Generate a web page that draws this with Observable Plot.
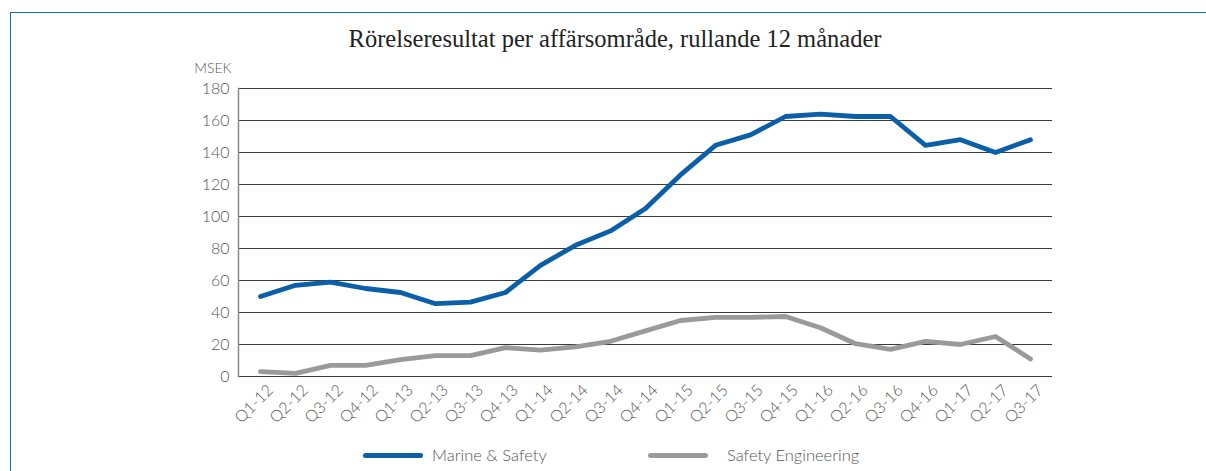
<!DOCTYPE html>
<html>
<head>
<meta charset="utf-8">
<script src="https://cdn.jsdelivr.net/npm/d3@7"></script>
<script src="https://cdn.jsdelivr.net/npm/@observablehq/plot@0.6"></script>
<style>
  html, body { margin: 0; padding: 0; background: #fff; overflow: hidden; }
  body { width: 1206px; height: 471px; position: relative; font-family: Lato, "Open Sans", sans-serif; }
  #border { position: absolute; left: 10px; top: 12px; width: 1400px; height: 600px; border: 1.5px solid #1b6ab5; box-sizing: border-box; }
  #title { position: absolute; left: 0; width: 1230px; top: 25px; text-align: center; font-family: "Liberation Serif", "DejaVu Serif", serif; font-size: 24.5px; color: #222; }
  #chart { position: absolute; left: 0; top: 60px; }
  .legend { position: absolute; top: 445px; font-size: 16.5px; font-weight: 300; color: #555; display: flex; align-items: center; }
  .sw { width: 60px; height: 5px; border-radius: 3px; margin-right: 9px; }
</style>
</head>
<body>
<div id="border"></div>
<div id="title">Rörelseresultat per affärsområde, rullande 12 månader</div>
<div id="chart"></div>
<div class="legend" style="left:363px"><div class="sw" style="background:#0b5ea8"></div>Marine &amp; Safety</div>
<div class="legend" style="left:648px"><div class="sw" style="background:#9a9a9c;margin-right:19px"></div>Safety Engineering</div>
<script>
const quarters = ["Q1-12","Q2-12","Q3-12","Q4-12","Q1-13","Q2-13","Q3-13","Q4-13","Q1-14","Q2-14","Q3-14","Q4-14","Q1-15","Q2-15","Q3-15","Q4-15","Q1-16","Q2-16","Q3-16","Q4-16","Q1-17","Q2-17","Q3-17"];
const marineSafety = [50, 57, 59, 55, 52.5, 45.5, 46.5, 52.5, 69.5, 82, 91, 105, 126, 144.5, 151, 162.5, 164, 162.5, 162.5, 144.5, 148, 140, 148];
const safetyEngineering = [3, 2, 7, 7, 10.5, 13, 13, 18, 16.5, 18.5, 22, 28.5, 35, 37, 37, 37.5, 30.5, 20.5, 17, 22, 20, 25, 11];
const seriesNames = ["Marine & Safety", "Safety Engineering"];
const seriesColors = ["#0b5ea8", "#9a9a9c"];
const yTicks = [0, 20, 40, 60, 80, 100, 120, 140, 160, 180];

const data = [
  ...quarters.map((q, i) => ({q, v: marineSafety[i], s: seriesNames[0]})),
  ...quarters.map((q, i) => ({q, v: safetyEngineering[i], s: seriesNames[1]}))
];

const chart = Plot.plot({
  width: 1206,
  height: 380,
  marginLeft: 238,
  marginRight: 154,
  marginTop: 28,
  marginBottom: 64,
  style: {fontFamily: "Lato, 'Open Sans', sans-serif", fontSize: "15px", fontWeight: 300, color: "#555", background: "transparent"},
  x: {type: "point", domain: quarters, padding: 0.5},
  y: {domain: [0, 180]},
  color: {domain: seriesNames, range: seriesColors},
  marks: [
    Plot.ruleY(yTicks, {stroke: "#3a3a3a", strokeWidth: 1.2}),
    Plot.frame({anchor: "left", stroke: "#8a8a8a", strokeWidth: 1.5}),
    Plot.line(data, {x: "q", y: "v", z: "s", stroke: "s", strokeWidth: 4.8}),
    Plot.axisY(yTicks, {tickSize: 0, tickPadding: 9, label: null, fontSize: 16, fill: "#555"}),
    Plot.axisX({tickRotate: -45, tickSize: 0, tickPadding: 6, label: null, fontSize: 16, fill: "#555", dx: 10, dy: 5}),
    Plot.text(["MSEK"], {frameAnchor: "top-left", dx: -7, dy: -25, textAnchor: "end", fontSize: 14, fill: "#555"})
  ]
});
document.getElementById("chart").appendChild(chart);
</script>
</body>
</html>
